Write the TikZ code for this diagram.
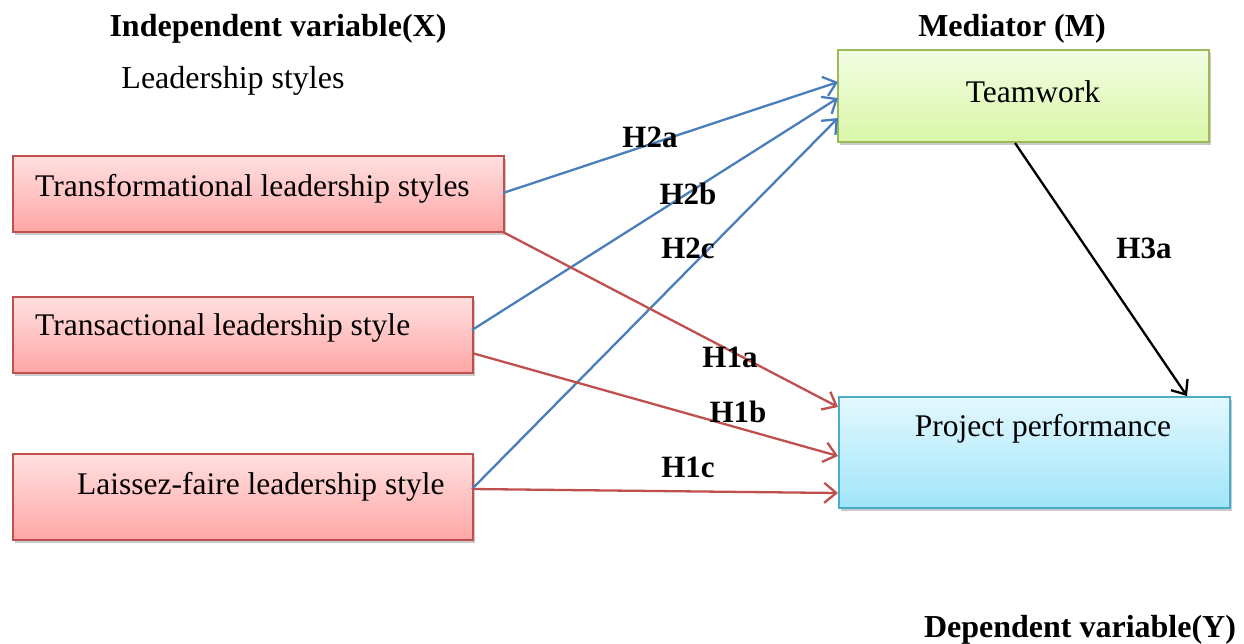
\documentclass[tikz,border=0pt]{standalone}
\usepackage{fontspec}
\setmainfont{Liberation Serif}
\usetikzlibrary{arrows.meta,shadows}
\definecolor{redline}{HTML}{C0504D}
\definecolor{blueline}{HTML}{4A7EBB}
\definecolor{greenedge}{HTML}{9BBB59}
\definecolor{cyanedge}{HTML}{4BACC6}
\definecolor{redtop}{HTML}{FFE0E0}
\definecolor{redbot}{HTML}{FFA6A6}
\definecolor{greentop}{HTML}{F3FDE3}
\definecolor{greenbot}{HTML}{D9F6A9}
\definecolor{cyantop}{HTML}{E4F8FF}
\definecolor{cyanbot}{HTML}{A0E5F9}
\tikzset{
  box/.style={draw, line width=1.6pt, inner sep=0pt, anchor=north west,
    drop shadow={shadow xshift=2pt, shadow yshift=-3pt, opacity=0.35, fill=black!60}},
  ivbox/.style={box, draw=redline, top color=redtop, bottom color=redbot},
  medbox/.style={box, draw=greenedge, top color=greentop, bottom color=greenbot},
  depbox/.style={box, draw=cyanedge, top color=cyantop, bottom color=cyanbot},
  txt/.style={font=\fontsize{31.5}{36}\selectfont, inner sep=0pt},
  hd/.style={font=\fontsize{32}{36}\selectfont\bfseries, inner sep=0pt},
  hl/.style={font=\fontsize{31}{36}\selectfont\bfseries, inner sep=0pt},
  link/.style={line width=2.3pt, -{Straight Barb[length=12pt, width=20pt, line width=2.3pt]}},
  blink/.style={link, draw=blueline},
  rlink/.style={link, draw=redline},
}
\begin{document}
\begin{tikzpicture}[x=1pt, y=-1pt]
\useasboundingbox (0,0) rectangle (1244,643);

% headers
\node[hd] (hx) at (278,29) {Independent variable(X)};
\node[txt, font=\fontsize{32}{36}\selectfont] (ls) at (233,81) {Leadership styles};
\node[hd] (hm) at (1012,29) {Mediator (M)};
\node[hd] (hy) at (1080,630) {Dependent variable(Y)};

% boxes
\node[ivbox, minimum width=491pt, minimum height=76pt] (tf) at (12,155) {};
\node[txt, anchor=west] (tft) at (35,189) {Transformational leadership styles};
\node[ivbox, minimum width=460pt, minimum height=76pt] (ta) at (12,296) {};
\node[txt, anchor=west] (tat) at (35,328) {Transactional leadership style};
\node[ivbox, minimum width=460pt, minimum height=86pt] (lf) at (12,453) {};
\node[txt, anchor=west] (lft) at (77,487) {Laissez-faire leadership style};
\node[medbox, minimum width=371pt, minimum height=92pt] (tw) at (837,49) {};
\node[txt] (twt) at (1033,92) {Teamwork};
\node[depbox, minimum width=391pt, minimum height=111pt] (pp) at (838,396) {};
\node[txt] (ppt) at (1043,429) {Project performance};

% connector end points on the boxes
\coordinate (tfR) at (503,193);
\coordinate (tfB) at (503,232);
\coordinate (taR) at (472,330);
\coordinate (taL) at (472,353);
\coordinate (lfR) at (472,489);
\coordinate (twA) at (838,82);
\coordinate (twB) at (838,98);
\coordinate (twC) at (838,118);
\coordinate (twD) at (1015,143);
\coordinate (ppA) at (838,407);
\coordinate (ppB) at (838,456);
\coordinate (ppC) at (838,493);
\coordinate (ppD) at (1187,396);

\draw[blink] (tfR) -- (twA);
\draw[blink] (taR) -- (twB);
\draw[blink] (lfR) -- (twC);
\draw[rlink] (tfB) -- (ppA);
\draw[rlink] (taL) -- (ppB);
\draw[rlink] (lfR) -- (ppC);
\draw[link, draw=black] (twD) -- (ppD);

% hypothesis labels
\node[hl] (h2a) at (650,137) {H2a};
\node[hl] (h2b) at (688,194) {H2b};
\node[hl] (h2c) at (688,248) {H2c};
\node[hl] (h3a) at (1144,248) {H3a};
\node[hl] (h1a) at (730,357) {H1a};
\node[hl] (h1b) at (738,412) {H1b};
\node[hl] (h1c) at (688,467) {H1c};
\end{tikzpicture}
\end{document}
